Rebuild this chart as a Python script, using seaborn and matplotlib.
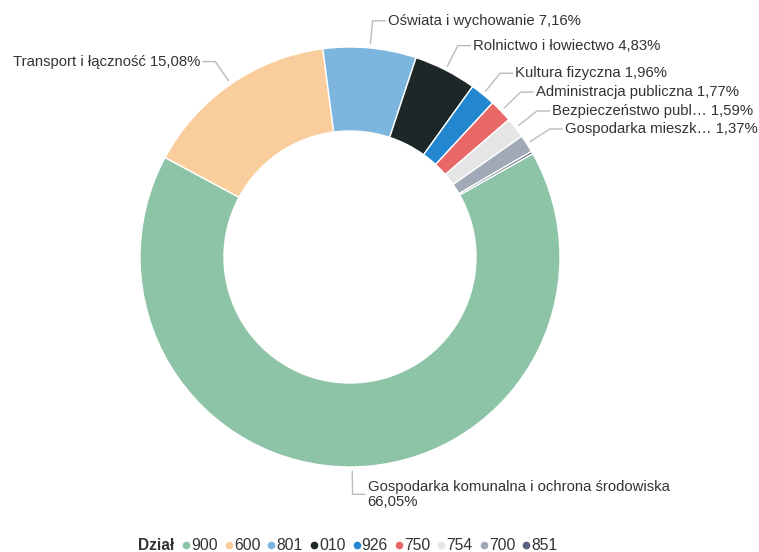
import numpy as np
import matplotlib
matplotlib.use("Agg")
import matplotlib.pyplot as plt
from matplotlib.lines import Line2D
import seaborn as sns

# data
codes = ["900", "600", "801", "010", "926", "750", "754", "700", "851"]
names = ["Gospodarka komunalna i ochrona środowiska\n", "Transport i łączność ", "Oświata i wychowanie ",
         "Rolnictwo i łowiectwo ", "Kultura fizyczna ", "Administracja publiczna ",
         "Bezpieczeństwo publ… ", "Gospodarka mieszk… ", ""]
shares = [66.05, 15.08, 7.16, 4.83, 1.96, 1.77, 1.59, 1.37, 0.19]
show_label = [True, True, True, True, True, True, True, True, False]
colors = ["#8DC3A7", "#FACE9C", "#7CB6DE", "#1D2727", "#2287CF",
          "#E86767", "#E5E5E5", "#A1A9B6", "#56607A"]

sns.set_theme(style="white")
plt.rcParams["font.family"] = ["Liberation Sans", "DejaVu Sans"]
text_color = "#333333"

fig = plt.figure(figsize=(7.59, 5.52), dpi=100)
ax = fig.add_axes([140 / 759, (552 - 257 - 210) / 552, 420 / 759, 420 / 552])

wedges, _ = ax.pie(shares, colors=colors, startangle=29.5, counterclock=False,
                   radius=1.0, wedgeprops=dict(width=0.4, edgecolor="white", linewidth=1))
ax.set_xlim(-1, 1)
ax.set_ylim(-1, 1)
ax.set_aspect("equal")
ax.axis("off")

# labels with leader lines
for w, name, val, show in zip(wedges, names, shares, show_label):
    if not show:
        continue
    mid = np.deg2rad((w.theta1 + w.theta2) / 2)
    cx, cy = np.cos(mid), np.sin(mid)
    x0, y0 = 1.02 * cx, 1.02 * cy
    x1, y1 = 1.13 * cx, 1.13 * cy
    side = 1 if cx >= -0.05 else -1
    x2 = x1 + side * 0.06
    ax.plot([x0, x1, x2], [y0, y1, y1], color="#bbbbbb", lw=1, clip_on=False,
            solid_joinstyle="miter")
    label = name + f"{val:.2f}%".replace(".", ",")
    ax.text(x2 + side * 0.012, y1, label, ha="left" if side > 0 else "right",
            va="center", fontsize=10.7, color=text_color, linespacing=1.05)

# legend
handles = [Line2D([0], [0], marker="o", color="none", markerfacecolor=c,
                  markeredgecolor="none", markersize=5.5) for c in colors]
fig.text(138 / 759, 1 - 546 / 552, "Dział", fontsize=11.2, fontweight="bold",
         color=text_color, ha="left", va="center")
leg = fig.legend(handles, codes, ncol=len(codes), loc="center left",
                 bbox_to_anchor=(183 / 759, 1 - 546 / 552), frameon=False,
                 handlelength=0.38, handletextpad=0.13, columnspacing=0.52,
                 borderaxespad=0, borderpad=0, fontsize=11.3)
for t in leg.get_texts():
    t.set_color(text_color)

fig.savefig("out.png", dpi=100, facecolor="white")
